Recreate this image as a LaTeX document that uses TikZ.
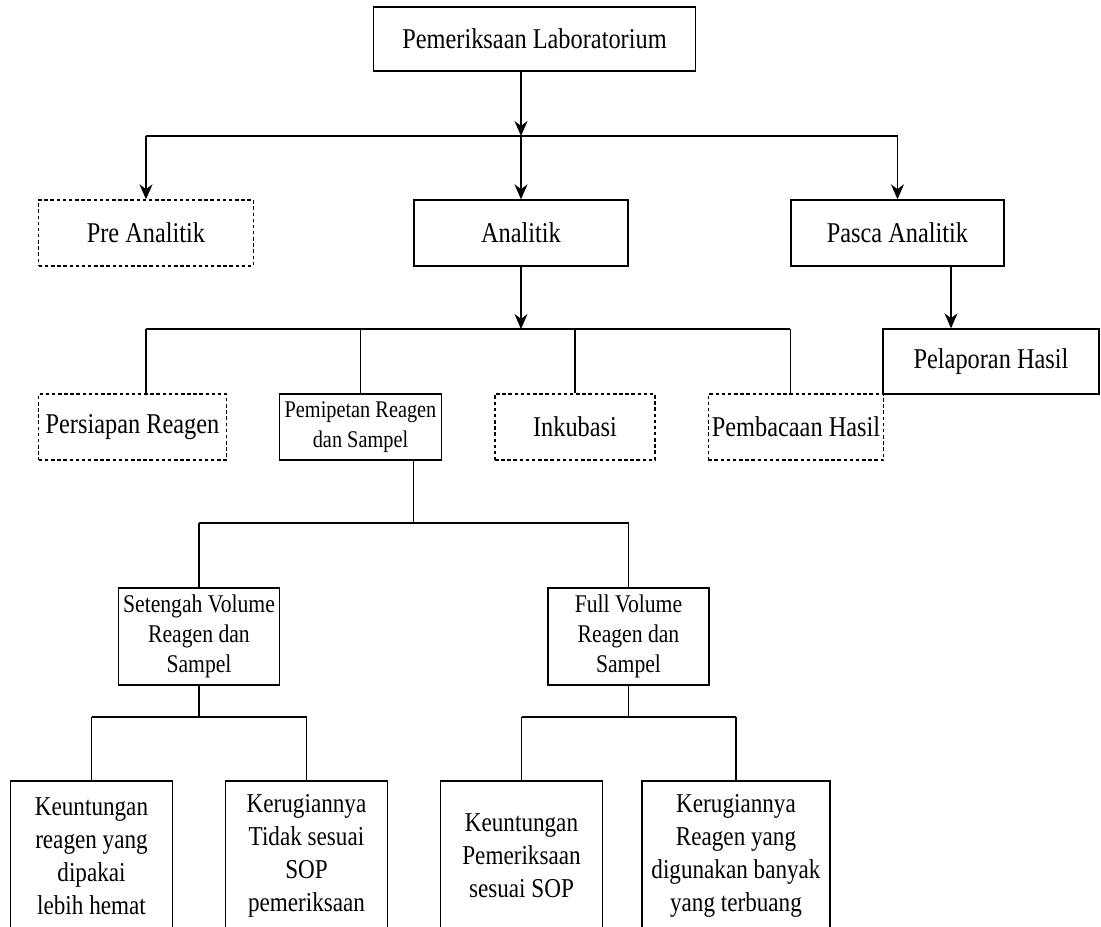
\documentclass[tikz,border=0pt]{standalone}
\usepackage{fontspec}
\setmainfont{Liberation Serif}[FakeStretch=0.85]
\usetikzlibrary{shapes,arrows,arrows.meta,positioning,calc}

\begin{document}
\begin{tikzpicture}[node distance=3.88cm,
    box/.style={rectangle, draw, line width=0.8pt, align=center, inner sep=2pt, minimum height=1.32cm, font=\fontsize{16.3}{19}\selectfont},
    dashbox/.style={box, dash pattern=on 2pt off 1.5pt},
    twoline/.style={box, font=\fontsize{13.6}{17}\selectfont},
    threeline/.style={box, minimum height=1.94cm, font=\fontsize{14.5}{17}\selectfont},
    longbox/.style={box, minimum width=3.23cm, minimum height=3cm, font=\fontsize{15.5}{18.7}\selectfont},
    arr/.style={-{Stealth[length=3mm, width=2.6mm]}, line width=0.8pt},
    link/.style={line width=0.8pt}]
    \clip (0,0) rectangle (22.02,-18.52);

    \node[box, minimum width=6.43cm, minimum height=1.28cm] (lab) at (10.69,-0.78) {Pemeriksaan Laboratorium};

    \node[box, minimum width=4.28cm, below of=lab, xshift=-0.27cm] (ana) {Analitik};
    \node[dashbox, minimum width=4.29cm, left of=ana, node distance=7.5cm] (pre) {Pre Analitik};
    \node[box, minimum width=4.26cm, right of=ana, node distance=7.53cm] (pasca) {Pasca Analitik};
    \node[box, minimum width=4.32cm, minimum height=1.3cm, below of=pasca, node distance=2.57cm, xshift=1.87cm] (lapor) {Pelaporan Hasil};

    \node[twoline, minimum width=3.23cm, below of=ana, xshift=-3.21cm] (pipet) {Pemipetan Reagen\\dan Sampel};
    \node[dashbox, minimum width=3.75cm, left of=pipet, node distance=4.56cm] (siap) {Persiapan Reagen};
    \node[dashbox, minimum width=3.2cm, right of=pipet, node distance=4.29cm] (inkub) {Inkubasi};
    \node[dashbox, minimum width=3.48cm, right of=inkub, node distance=4.42cm] (baca) {Pembacaan Hasil};

    \node[threeline, minimum width=3.23cm, below of=pipet, node distance=4.19cm, xshift=-3.23cm] (half) {Setengah Volume\\Reagen dan\\Sampel};
    \node[threeline, minimum width=3.22cm, right of=half, node distance=8.59cm] (full) {Full Volume\\Reagen dan\\Sampel};

    \node[longbox, below of=half, node distance=4.39cm, xshift=-2.15cm] (untung1) {Keuntungan\\reagen yang\\dipakai\\lebih hemat};
    \node[longbox, right of=untung1, node distance=4.3cm] (rugi1) {Kerugiannya\\Tidak sesuai\\SOP\\pemeriksaan};
    \node[longbox, right of=rugi1, node distance=4.3cm] (untung2) {Keuntungan\\Pemeriksaan\\sesuai SOP};
    \node[longbox, minimum width=3.76cm, right of=untung2, node distance=4.29cm] (rugi2) {Kerugiannya\\Reagen yang\\digunakan banyak\\yang terbuang};

    \coordinate (j1) at (ana |- 0,-2.72);
    \coordinate (j2) at (ana |- 0,-6.58);
    \coordinate (j3) at (ana.west |- 0,-10.46);
    \coordinate (j4) at (half |- 0,-14.34);
    \coordinate (j5) at (full |- 0,-14.34);

    \draw[arr] (lab.south -| ana) -- (j1);
    \draw[link] (pre |- j1) -- (pasca |- j1);
    \draw[arr] (pre |- j1) -- (pre.north);
    \draw[arr] (j1) -- (ana.north);
    \draw[arr] (pasca |- j1) -- (pasca.north);
    \draw[arr] ([xshift=1.07cm]pasca.south) -- ([xshift=1.07cm]pasca.south |- lapor.north);

    \draw[arr] (ana.south) -- (j2);
    \draw[link] (pre |- j2) -- (pasca.west |- j2);
    \draw[link] (pre |- j2) -- (pre |- siap.north);
    \draw[link] (pipet |- j2) -- (pipet.north);
    \draw[link] (inkub |- j2) -- (inkub.north);
    \draw[link] (pasca.west |- j2) -- (pasca.west |- baca.north);

    \draw[link] (ana.west |- pipet.south) -- (j3);
    \draw[link] (half |- j3) -- (full |- j3);
    \draw[link] (half |- j3) -- (half.north);
    \draw[link] (full |- j3) -- (full.north);

    \draw[link] (half.south) -- (j4);
    \draw[link] (untung1 |- j4) -- (rugi1 |- j4);
    \draw[link] (untung1 |- j4) -- (untung1.north);
    \draw[link] (rugi1 |- j4) -- (rugi1.north);
    \draw[link] (full.south) -- (j5);
    \draw[link] (untung2 |- j5) -- (rugi2 |- j5);
    \draw[link] (untung2 |- j5) -- (untung2.north);
    \draw[link] (rugi2 |- j5) -- (rugi2.north);
\end{tikzpicture}
\end{document}
